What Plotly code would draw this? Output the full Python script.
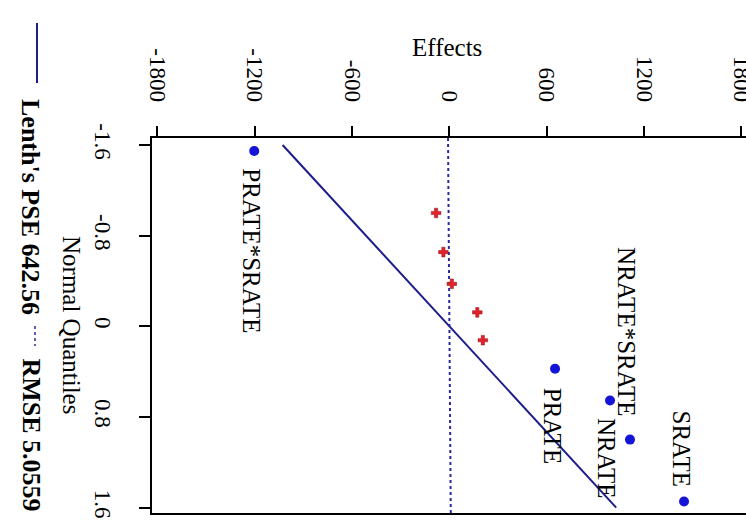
import plotly.graph_objects as go

# ---- data ----
effect_names = ["PRATE*SRATE", "e1", "e2", "e3", "e4", "e5", "PRATE", "NRATE", "NRATE*SRATE", "SRATE"]
normal_quantiles = [-1.547, -1.0, -0.655, -0.375, -0.123, 0.123, 0.375, 0.655, 1.0, 1.547]
effects = [-1203, -82, -37, 15, 172, 206, 651, 990, 1113, 1446]
significant = [True, False, False, False, False, False, True, True, True, True]
lenth_pse = 642.56
rmse = 5.0559
x_ticks = [-1800, -1200, -600, 0, 600, 1200, 1800]
x_tick_text = ["-1800", "-1200", "-600", "0", "600", "1200", "1800"]
y_ticks = [-1.6, -0.8, 0, 0.8, 1.6]
y_tick_text = ["-1.6", "-0.8", "0", "0.8", "1.6"]

FONT = "Liberation Serif"
W, H = 746, 527
ML, MR, MT, MB = 152, 0, 138, 14
PW, PH = W - ML - MR, H - MT - MB
X_RANGE = [-1833, 1828]
Y_RANGE = [1.648, -1.662]

def px(xp):
    return (xp - ML) / PW

def py(yp):
    return (H - MB - yp) / PH

fig = go.Figure()

# Lenth PSE line
q_line = [-1.6, 1.6]
fig.add_trace(go.Scatter(x=[lenth_pse * q for q in q_line], y=q_line, mode="lines",
                         line=dict(color="#1c1c8a", width=2), showlegend=False, hoverinfo="skip"))
# RMSE line (nearly vertical, dotted)
q_full = [Y_RANGE[1], Y_RANGE[0]]
fig.add_trace(go.Scatter(x=[rmse * q for q in q_full], y=q_full, mode="lines",
                         line=dict(color="#2a2aa0", width=2, dash="dot"), showlegend=False, hoverinfo="skip"))

# non-significant effects
xs = [e for e, s in zip(effects, significant) if not s]
ys = [q for q, s in zip(normal_quantiles, significant) if not s]
fig.add_trace(go.Scatter(x=xs, y=ys, mode="markers",
                         marker=dict(symbol="cross", size=8, color="#e8202a",
                                     line=dict(color="#7a1010", width=0.5)),
                         showlegend=False))
# significant effects
xs = [e for e, s in zip(effects, significant) if s]
ys = [q for q, s in zip(normal_quantiles, significant) if s]
fig.add_trace(go.Scatter(x=xs, y=ys, mode="markers",
                         marker=dict(symbol="circle", size=10, color="#1414d8"),
                         showlegend=False))

# labels for significant effects
placement = {"PRATE*SRATE": ("below", 15), "PRATE": ("below", 17), "NRATE": ("below", 15),
             "NRATE*SRATE": ("above", 21), "SRATE": ("above", 13)}
for name, e, q in zip(effect_names, effects, normal_quantiles):
    if name in placement:
        side, off = placement[name]
        fig.add_annotation(x=e, y=q, xref="x", yref="y", text=name, showarrow=False,
                           textangle=90, font=dict(family=FONT, size=25, color="black"),
                           xanchor="center", yanchor="top" if side == "below" else "bottom",
                           xshift=-3, yshift=-off if side == "below" else off)

# axis titles
fig.add_annotation(x=px(447), y=py(47), xref="paper", yref="paper", text="Effects",
                   showarrow=False, font=dict(family=FONT, size=25, color="black"),
                   xanchor="center", yanchor="middle")
fig.add_annotation(x=px(72), y=py(325), xref="paper", yref="paper", text="Normal Quantiles",
                   showarrow=False, textangle=90, font=dict(family=FONT, size=25, color="black"),
                   xanchor="center", yanchor="middle")

# legend (rotated)
fig.add_shape(type="line", xref="paper", yref="paper", x0=px(37), x1=px(37), y0=py(23), y1=py(83),
              line=dict(color="#1c1c8a", width=2))
fig.add_annotation(x=px(31), y=py(97), xref="paper", yref="paper",
                   text="<b>Lenth's PSE %.2f</b>" % lenth_pse, showarrow=False, textangle=90,
                   font=dict(family=FONT, size=26, color="black"), xanchor="center", yanchor="top")
fig.add_shape(type="line", xref="paper", yref="paper", x0=px(35), x1=px(35), y0=py(326), y1=py(346),
              line=dict(color="#2a2aa0", width=1.5, dash="dot"))
fig.add_annotation(x=px(31), y=py(513), xref="paper", yref="paper",
                   text="<b>RMSE %.4f</b>" % rmse, showarrow=False, textangle=90,
                   font=dict(family=FONT, size=26, color="black"), xanchor="center", yanchor="bottom")

fig.update_layout(
    width=W, height=H, margin=dict(l=ML, r=MR, t=MT, b=MB, autoexpand=False),
    paper_bgcolor="white", plot_bgcolor="white",
    font=dict(family=FONT, color="black"),
    xaxis=dict(side="top", range=X_RANGE, tickvals=x_ticks, ticktext=x_tick_text, ticks="outside",
               ticklen=10, tickwidth=2, tickcolor="black", showline=True, linecolor="black",
               linewidth=2, mirror=True, showgrid=False, zeroline=False, tickangle=90,
               automargin=False, ticklabeloverflow="allow",
               tickfont=dict(family=FONT, size=23, color="black"), ticklabelstandoff=16),
    yaxis=dict(range=Y_RANGE, tickvals=y_ticks, ticktext=y_tick_text, ticks="outside", ticklen=11,
               tickwidth=2, tickcolor="black", showline=True, linecolor="black", linewidth=2,
               showgrid=False, zeroline=False, tickangle=90, automargin=False,
               ticklabeloverflow="allow",
               tickfont=dict(family=FONT, size=23, color="black"), ticklabelstandoff=16),
)

fig.write_html("out.html", config={"displayModeBar": False},
               post_script="document.body.style.margin='0';document.body.style.overflow='hidden';")
